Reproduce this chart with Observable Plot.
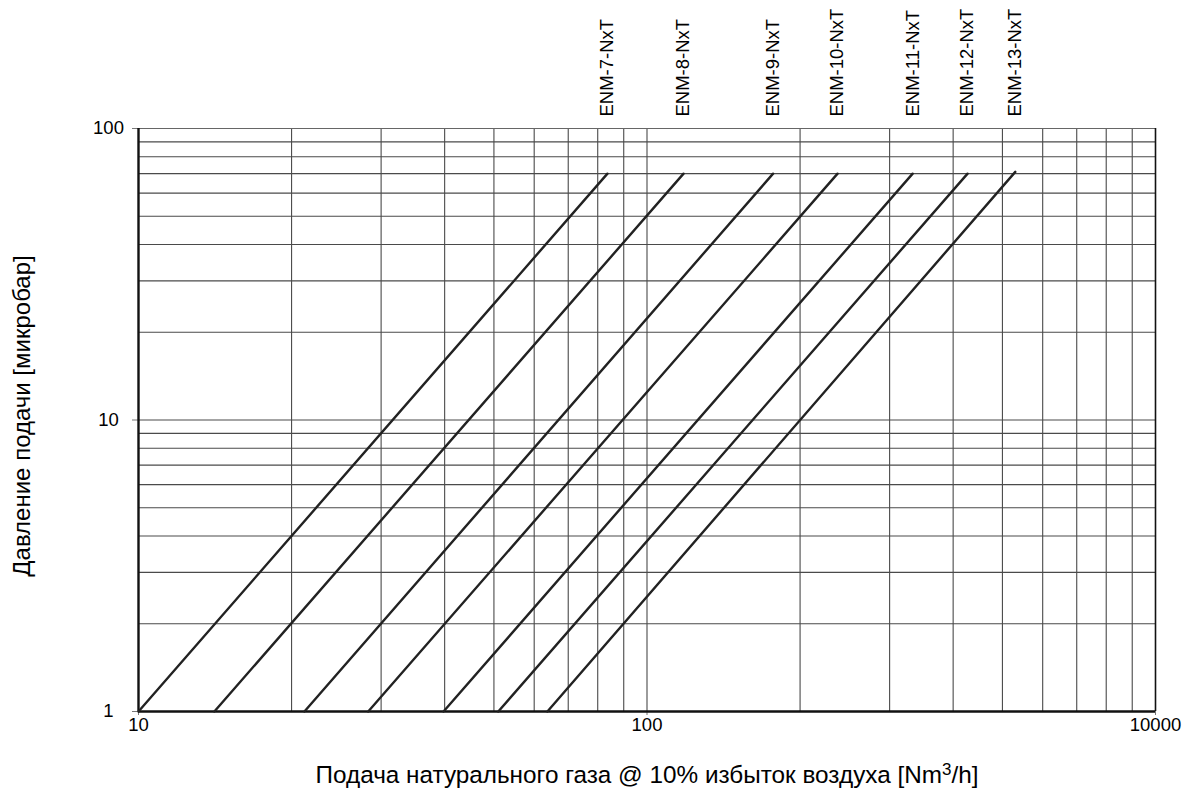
<!DOCTYPE html>
<html>
<head>
<meta charset="utf-8">
<script src="https://cdn.jsdelivr.net/npm/d3@7"></script>
<script src="https://cdn.jsdelivr.net/npm/@observablehq/plot@0.6"></script>
<style>
  body { margin: 0; background: #fff; }
  #chart svg { display: block; }
</style>
</head>
<body>
<div id="chart"></div>
<script>
// Burner models and their supply-pressure curves (two end points each, log-log)
const models = ["ENM-7-NxT", "ENM-8-NxT", "ENM-9-NxT", "ENM-10-NxT", "ENM-11-NxT", "ENM-12-NxT", "ENM-13-NxT"];
const flowLow = [10, 14.1, 21.2, 28.3, 39.8, 51.0, 63.7];      // Nm3/h at 1 µbar
const flowHigh = [83.6, 118, 177, 237, 333, 427, 530];         // Nm3/h at top of curve
const pressureLow = [1, 1, 1, 1, 1, 1, 1];
const pressureHigh = [70, 70, 70, 70, 70, 70, 71];

// Axis ticks and labels
const xTicks = [10, 100, 1000];
const xTickLabels = ["10", "100", "10000"];
const yTicks = [1, 10, 100];
const yTickLabels = ["1", "10", "100"];
const xGrid = [20, 30, 40, 50, 60, 70, 80, 90, 100, 200, 300, 400, 500, 600, 700, 800, 900];
const yGrid = [2, 3, 4, 5, 6, 7, 8, 9, 10, 20, 30, 40, 50, 60, 70, 80, 90];

const xTitle = "Подача натурального газа @ 10% избыток воздуха [Nm3/h]";
const yTitle = "Давление подачи [микробар]";

const segments = models.flatMap((m, i) => [
  {model: m, flow: flowLow[i], pressure: pressureLow[i]},
  {model: m, flow: flowHigh[i], pressure: pressureHigh[i]}
]);
const tops = models.map((m, i) => ({model: m, flow: flowHigh[i]}));

const font = "'Liberation Sans', Arial, sans-serif";

const chart = Plot.plot({
  width: 1184,
  height: 790,
  marginLeft: 138,
  marginRight: 29,
  marginTop: 128,
  marginBottom: 79,
  style: {fontFamily: font, fontSize: "18px", color: "#000", background: "#fff"},
  x: {type: "log", domain: [10, 1000]},
  y: {type: "log", domain: [1, 100]},
  marks: [
    Plot.ruleX(xGrid, {stroke: "#4a4a4a", strokeWidth: 1.1}),
    Plot.ruleY(yGrid, {stroke: "#4a4a4a", strokeWidth: 1.1}),
    Plot.frame({stroke: "#666", strokeWidth: 1}),
    Plot.ruleX([1000], {stroke: "#111", strokeWidth: 1.6}),
    Plot.axisX({
      ticks: xTicks,
      tickFormat: d => xTickLabels[xTicks.indexOf(d)],
      tickSize: 4,
      tickPadding: 2,
      stroke: "#777",
      fill: "#000",
      fontSize: 18.5,
      label: null
    }),
    Plot.axisY({
      ticks: yTicks,
      tickFormat: d => yTickLabels[yTicks.indexOf(d)],
      tickSize: 6,
      tickPadding: 24,
      textAnchor: "middle",
      stroke: "#777",
      fill: "#000",
      fontSize: 18.5,
      label: null
    }),
    Plot.ruleX([10], {stroke: "#111", strokeWidth: 2.4}),
    Plot.ruleY([1], {stroke: "#111", strokeWidth: 2.4}),
    Plot.line(segments, {x: "flow", y: "pressure", z: "model", stroke: "#222", strokeWidth: 2.4}),
    Plot.text(tops, {
      x: "flow",
      frameAnchor: "top",
      text: "model",
      rotate: -90,
      textAnchor: "start",
      lineAnchor: "middle",
      dy: -12,
      fontSize: 18.5,
      fill: "#000"
    }),
    Plot.text([yTitle], {
      frameAnchor: "left",
      dx: -116,
      dy: -4,
      rotate: -90,
      textAnchor: "middle",
      lineAnchor: "middle",
      fontSize: 24,
      fill: "#000"
    }),
    Plot.text([xTitle], {
      frameAnchor: "bottom",
      dy: 64,
      textAnchor: "middle",
      lineAnchor: "middle",
      fontSize: 24.3,
      fill: "#000"
    })
  ]
});

// Set the "3" of Nm3/h as a superscript
d3.select(chart).selectAll("text")
  .filter(function () { return this.textContent === xTitle; })
  .each(function () {
    const t = d3.select(this);
    const parts = xTitle.split("Nm3/h");
    t.text(null);
    t.append("tspan").text(parts[0] + "Nm");
    t.append("tspan").attr("font-size", "17px").attr("dy", "-8").text("3");
    t.append("tspan").attr("dy", "8").text("/h" + parts[1]);
  });

document.getElementById("chart").append(chart);
</script>
</body>
</html>
